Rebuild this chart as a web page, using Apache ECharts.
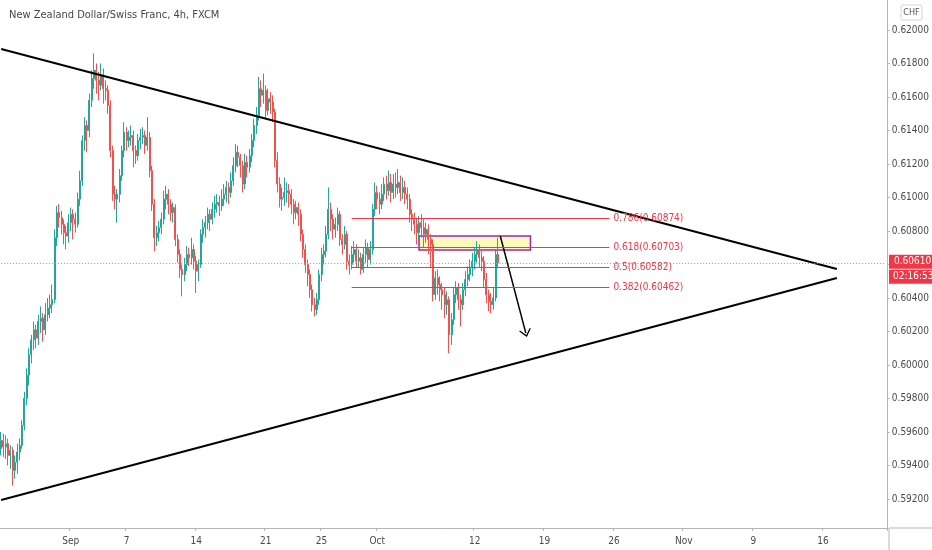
<!DOCTYPE html>
<html>
<head>
<meta charset="utf-8">
<title>NZDCHF 4h</title>
<script src="https://cdn.jsdelivr.net/npm/echarts@6/dist/echarts.min.js"></script>
<style>
html,body{margin:0;padding:0;background:#fff;}
#chart{width:932px;height:550px;}
</style>
</head>
<body>
<div id="chart"></div>
<script>
// trading days shown on the 4h chart (weekends skipped), 6 bars a day
var tradingDays = ['2020-08-25','2020-08-26','2020-08-27','2020-08-28','2020-08-31',
  '2020-09-01','2020-09-02','2020-09-03','2020-09-04','2020-09-07','2020-09-08','2020-09-09','2020-09-10','2020-09-11',
  '2020-09-14','2020-09-15','2020-09-16','2020-09-17','2020-09-18','2020-09-21','2020-09-22','2020-09-23','2020-09-24','2020-09-25',
  '2020-09-28','2020-09-29','2020-09-30','2020-10-01','2020-10-02','2020-10-05','2020-10-06','2020-10-07','2020-10-08','2020-10-09',
  '2020-10-12','2020-10-13','2020-10-14','2020-10-15','2020-10-16','2020-10-19','2020-10-20','2020-10-21','2020-10-22','2020-10-23',
  '2020-10-26','2020-10-27','2020-10-28','2020-10-29','2020-10-30','2020-11-02','2020-11-03','2020-11-04','2020-11-05','2020-11-06',
  '2020-11-09','2020-11-10','2020-11-11','2020-11-12','2020-11-13','2020-11-16','2020-11-17','2020-11-18','2020-11-19','2020-11-20'];
var hours = ['00:00','04:00','08:00','12:00','16:00','20:00'];
var barCount = 382;

var tickDates = ['2020-09-01','2020-09-07','2020-09-14','2020-09-21','2020-09-25','2020-10-01','2020-10-12','2020-10-19','2020-10-26','2020-11-02','2020-11-09','2020-11-16'];
var tickTexts = ['Sep','7','14','21','25','Oct','12','19','26','Nov','9','16'];

// [open, close, low, high]
var candles = [
  [.5950,.5955,.5946,.5960],[.5955,.5951,.5945,.5959],[.5951,.5953,.5944,.5958],[.5953,.5946,.5940,.5956],[.5946,.5949,.5938,.5952],
  [.5949,.5937,.5928,.5951],[.5937,.5942,.5932,.5946],[.5942,.5948,.5935,.5953],[.5948,.5952,.5943,.5956],[.5952,.5964,.5950,.5967],
  [.5964,.5980,.5961,.5984],[.5980,.5994,.5976,.5998],[.5994,.6006,.5988,.6010],[.6006,.6015,.6001,.6018],[.6015,.6021,.6009,.6026],
  [.6021,.6016,.6010,.6024],[.6016,.6026,.6012,.6030],[.6026,.6028,.6019,.6035],[.6028,.6021,.6014,.6031],[.6021,.6030,.6018,.6037],
  [.6030,.6034,.6026,.6040],[.6034,.6036,.6028,.6042],[.6036,.6039,.6031,.6048],[.6039,.6076,.6037,.6081],[.6076,.6091,.6071,.6095],
  [.6091,.6088,.6082,.6096],[.6088,.6084,.6078,.6092],[.6084,.6079,.6072,.6087],[.6079,.6077,.6069,.6083],[.6077,.6085,.6073,.6090],
  [.6085,.6090,.6080,.6094],[.6090,.6087,.6075,.6093],[.6087,.6084,.6079,.6091],[.6084,.6099,.6082,.6103],[.6099,.6110,.6095,.6116],
  [.6110,.6134,.6107,.6137],[.6134,.6143,.6128,.6148],[.6143,.6140,.6127,.6146],[.6140,.6158,.6136,.6162],[.6158,.6171,.6154,.6176],
  [.6171,.6176,.6165,.6186],[.6176,.6170,.6162,.6180],[.6170,.6167,.6158,.6175],[.6167,.6173,.6164,.6180],[.6173,.6165,.6156,.6177],
  [.6165,.6164,.6158,.6170],[.6164,.6155,.6150,.6167],[.6155,.6128,.6124,.6158],[.6128,.6102,.6098,.6131],[.6102,.6099,.6093,.6107],
  [.6099,.6102,.6085,.6105],[.6102,.6113,.6097,.6117],[.6113,.6128,.6110,.6131],[.6128,.6139,.6124,.6145],[.6139,.6134,.6128,.6142],
  [.6134,.6136,.6130,.6140],[.6136,.6137,.6131,.6143],[.6137,.6128,.6118,.6140],[.6128,.6125,.6120,.6131],[.6125,.6134,.6122,.6138],
  [.6134,.6136,.6129,.6141],[.6136,.6137,.6132,.6142],[.6137,.6131,.6126,.6140],[.6131,.6136,.6128,.6148],[.6136,.6116,.6112,.6139],
  [.6116,.6096,.6092,.6119],[.6096,.6076,.6068,.6099],[.6076,.6079,.6071,.6083],[.6079,.6082,.6074,.6086],[.6082,.6087,.6078,.6091],
  [.6087,.6099,.6084,.6104],[.6099,.6102,.6093,.6107],[.6102,.6096,.6090,.6105],[.6096,.6091,.6086,.6099],[.6091,.6094,.6085,.6097],
  [.6094,.6075,.6071,.6096],[.6075,.6066,.6061,.6078],[.6066,.6057,.6052,.6069],[.6057,.6054,.6041,.6060],[.6054,.6060,.6050,.6064],
  [.6060,.6066,.6056,.6071],[.6066,.6064,.6059,.6070],[.6064,.6069,.6060,.6076],[.6069,.6062,.6057,.6072],[.6062,.6056,.6043,.6065],
  [.6056,.6060,.6050,.6063],[.6060,.6078,.6058,.6081],[.6078,.6082,.6073,.6087],[.6082,.6085,.6076,.6089],[.6085,.6090,.6081,.6094],
  [.6090,.6087,.6080,.6093],[.6087,.6093,.6084,.6097],[.6093,.6096,.6088,.6101],[.6096,.6097,.6091,.6102],[.6097,.6095,.6089,.6101],
  [.6095,.6099,.6092,.6105],[.6099,.6102,.6095,.6108],[.6102,.6106,.6097,.6110],[.6106,.6103,.6096,.6109],[.6103,.6110,.6100,.6115],
  [.6110,.6119,.6107,.6124],[.6119,.6127,.6115,.6132],[.6127,.6124,.6118,.6131],[.6124,.6119,.6112,.6126],[.6119,.6108,.6103,.6122],
  [.6108,.6121,.6105,.6126],[.6121,.6118,.6112,.6125],[.6118,.6125,.6115,.6129],[.6125,.6134,.6121,.6138],[.6134,.6143,.6130,.6147],
  [.6143,.6149,.6138,.6154],[.6149,.6165,.6146,.6172],[.6165,.6161,.6154,.6170],[.6161,.6164,.6156,.6174],[.6164,.6152,.6147,.6167],
  [.6152,.6159,.6149,.6165],[.6159,.6157,.6150,.6163],[.6157,.6151,.6145,.6161],[.6151,.6122,.6118,.6153],[.6122,.6108,.6103,.6127],
  [.6108,.6099,.6094,.6112],[.6099,.6100,.6092,.6106],[.6100,.6103,.6095,.6112],[.6103,.6104,.6097,.6109],[.6104,.6102,.6094,.6108],
  [.6102,.6096,.6090,.6105],[.6096,.6091,.6084,.6099],[.6091,.6094,.6087,.6098],[.6094,.6090,.6083,.6097],[.6090,.6078,.6074,.6093],
  [.6078,.6069,.6064,.6081],[.6069,.6060,.6055,.6072],[.6060,.6054,.6047,.6063],[.6054,.6045,.6040,.6057],[.6045,.6036,.6032,.6048],
  [.6036,.6033,.6029,.6040],[.6033,.6039,.6030,.6043],[.6039,.6054,.6036,.6057],[.6054,.6066,.6050,.6070],[.6066,.6068,.6060,.6072],
  [.6068,.6078,.6064,.6083],[.6078,.6093,.6075,.6106],[.6093,.6087,.6080,.6097],[.6087,.6081,.6075,.6090],[.6081,.6084,.6076,.6088],
  [.6084,.6090,.6080,.6094],[.6090,.6075,.6071,.6092],[.6075,.6072,.6066,.6078],[.6072,.6078,.6069,.6083],[.6078,.6062,.6057,.6080],
  [.6062,.6060,.6054,.6066],[.6060,.6066,.6057,.6071],[.6066,.6069,.6061,.6074],[.6069,.6062,.6058,.6072],[.6062,.6064,.6058,.6069],
  [.6064,.6057,.6054,.6067],[.6057,.6066,.6055,.6070],[.6066,.6070,.6061,.6075],[.6070,.6063,.6058,.6073],[.6063,.6069,.6060,.6074],
  [.6069,.6093,.6066,.6096],[.6093,.6103,.6089,.6109],[.6103,.6099,.6093,.6107],[.6099,.6096,.6090,.6103],[.6096,.6102,.6093,.6108],
  [.6102,.6108,.6098,.6112],[.6108,.6104,.6099,.6113],[.6104,.6109,.6101,.6116],[.6109,.6103,.6097,.6114],[.6103,.6108,.6099,.6114],
  [.6108,.6106,.6100,.6115],[.6106,.6109,.6102,.6117],[.6109,.6103,.6098,.6113],[.6103,.6106,.6099,.6112],[.6106,.6102,.6096,.6110],
  [.6102,.6099,.6093,.6106],[.6099,.6090,.6085,.6102],[.6090,.6087,.6080,.6093],[.6087,.6084,.6078,.6091],[.6084,.6079,.6072,.6088],
  [.6079,.6085,.6075,.6089],[.6085,.6082,.6076,.6090],[.6082,.6078,.6070,.6087],[.6078,.6081,.6073,.6085],[.6081,.6075,.6066,.6084],
  [.6075,.6072,.6058,.6078],[.6072,.6042,.6038,.6075],[.6042,.6052,.6039,.6056],[.6052,.6048,.6042,.6057],[.6048,.6045,.6038,.6053],
  [.6045,.6042,.6033,.6049],[.6042,.6036,.6028,.6046],[.6036,.6039,.6030,.6044],[.6039,.6018,.6007,.6041],[.6018,.6027,.6012,.6031],
  [.6027,.6042,.6024,.6046],[.6042,.6046,.6037,.6050],[.6046,.6039,.6033,.6049],[.6039,.6036,.6023,.6042],[.6036,.6045,.6033,.6049],
  [.6045,.6051,.6041,.6056],[.6051,.6054,.6047,.6059],[.6054,.6058,.6050,.6063],[.6058,.6062,.6053,.6067],[.6062,.6066,.6057,.6070],
  [.6066,.6069,.6061,.6074],[.6069,.6064,.6058,.6072],[.6064,.6062,.6056,.6068],[.6062,.6051,.6046,.6065],[.6051,.6042,.6037,.6055],
  [.6042,.6038,.6032,.6045],[.6038,.6036,.6031,.6043],[.6036,.6040,.6033,.6046],[.6040,.6066,.6038,.6069],[.6066,.6061,.6058,.6076]
];

// drawings
var fibLevels = [0.786, 0.618, 0.5, 0.382];
var fibPrices = [0.60874, 0.60703, 0.60582, 0.60462];
var fibBars = [151, 262];
var upperLine = [[0, 0.61887], [360, 0.60573]];
var lowerLine = [[0, 0.59194], [360, 0.60519]];
var zoneBars = [180, 228];
var zonePrices = [0.60770, 0.60687];
var arrowPts = [[215, 0.6077], [226, 0.6019]];
var lastPrice = 0.60610;
var countdown = '02:16:53';
var yRange = [0.590269, 0.621791];

var categories = [];
tradingDays.forEach(function (d) {
  hours.forEach(function (h) { categories.push(d + ' ' + h); });
});
categories = categories.slice(0, barCount);

function isTick(idx) {
  var c = categories[idx];
  return c.slice(11) === '00:00' && tickDates.indexOf(c.slice(0, 10)) >= 0;
}

var font = "'Liberation Sans Narrow','DejaVu Sans Condensed','Liberation Sans',sans-serif";
var red = '#f23645';
var gridRight = 43, gridBottom = 22;

var markLines = [
  [{coord: upperLine[0], lineStyle: {color: '#000', width: 2, type: 'solid'}}, {coord: upperLine[1]}],
  [{coord: lowerLine[0], lineStyle: {color: '#000', width: 2, type: 'solid'}}, {coord: lowerLine[1]}],
  [{coord: [0, lastPrice], lineStyle: {color: '#f5737e', width: 1, type: [1, 2]}}, {coord: [barCount - 1, lastPrice]}],
  [{coord: arrowPts[0], symbol: 'none', lineStyle: {color: '#000', width: 1.5, type: 'solid'}},
   {coord: arrowPts[1], symbol: 'path://M0,0 L6,9 L5,10 L0,2.6 L-5,10 L-6,9 Z', symbolSize: [12, 8]}]
];
fibLevels.forEach(function (lv, i) {
  markLines.push([
    {coord: [fibBars[0], fibPrices[i]], lineStyle: {color: red, width: 1, type: 'solid'},
     label: {show: true, position: 'end', distance: 4, color: red, fontSize: 10, fontFamily: font,
             formatter: lv + '(' + fibPrices[i].toFixed(5) + ')'}},
    {coord: [fibBars[1], fibPrices[i]]}
  ]);
});

var chart = echarts.init(document.getElementById('chart'));
chart.setOption({
  animation: false,
  backgroundColor: '#fff',
  textStyle: {fontFamily: font},
  title: {
    text: 'New Zealand Dollar/Swiss Franc, 4h, FXCM',
    left: 4, top: 5,
    textStyle: {fontSize: 11, fontWeight: 'normal', color: '#434651', fontFamily: font}
  },
  grid: {left: 0, top: 0, right: gridRight, bottom: gridBottom},
  xAxis: {
    type: 'category',
    data: categories,
    boundaryGap: true,
    axisLine: {lineStyle: {color: '#b2b5be'}},
    axisTick: {show: true, length: 3, interval: function (i) { return isTick(i); }, lineStyle: {color: '#b2b5be'}},
    axisLabel: {
      interval: function (i) { return isTick(i); },
      formatter: function (v) { return tickTexts[tickDates.indexOf(v.slice(0, 10))]; },
      color: '#4a4a4a', fontSize: 10, margin: 8, fontFamily: font
    },
    splitLine: {show: false}
  },
  yAxis: {
    type: 'value',
    position: 'right',
    min: yRange[0], max: yRange[1],
    splitNumber: 16,
    splitLine: {show: false},
    axisLine: {show: true, lineStyle: {color: '#b2b5be'}},
    axisTick: {show: true, length: 3, lineStyle: {color: '#b2b5be'}},
    axisLabel: {
      formatter: function (v) { return v.toFixed(5); },
      showMinLabel: false, showMaxLabel: false,
      color: '#4a4a4a', fontSize: 10, margin: 5, fontFamily: font
    }
  },
  series: [{
    type: 'candlestick',
    data: candles,
    barWidth: '65%',
    itemStyle: {color: '#26a69a', color0: '#ef5350', borderColor: '#26a69a', borderColor0: '#ef5350', borderWidth: 1},
    markArea: {
      silent: true,
      itemStyle: {color: 'rgba(255,235,59,0.32)', borderColor: '#9c27b0', borderWidth: 1.5},
      data: [[{coord: [zoneBars[0], zonePrices[0]]}, {coord: [zoneBars[1], zonePrices[1]]}]]
    },
    markLine: {
      silent: true,
      animation: false,
      precision: 5,
      symbol: ['none', 'none'],
      label: {show: false},
      emphasis: {disabled: true},
      data: markLines
    }
  }]
});

// price / countdown tags on the price scale, placed from the axis scale
var py = chart.convertToPixel({yAxisIndex: 0}, lastPrice);
var W = chart.getWidth(), H = chart.getHeight();
var axisX = W - gridRight, axisY = H - gridBottom;
chart.setOption({
  graphic: [
    {type: 'line', z: 50, shape: {x1: axisX, y1: axisY, x2: W, y2: axisY}, style: {stroke: '#b2b5be', lineWidth: 1}},
    {type: 'line', z: 50, shape: {x1: axisX, y1: axisY, x2: axisX, y2: H}, style: {stroke: '#b2b5be', lineWidth: 1}},
    {type: 'rect', z: 50, shape: {x: 901, y: 5, width: 21, height: 15, r: 2}, style: {fill: '#fff', stroke: '#d1d4dc', lineWidth: 1}},
    {type: 'text', z: 51, x: 911.5, y: 12.5, style: {text: 'CHF', fill: '#555', font: '9px ' + font, align: 'center', verticalAlign: 'middle'}},
    {type: 'rect', z: 60, shape: {x: axisX, y: py - 8, width: W - axisX, height: 14}, style: {fill: red}},
    {type: 'text', z: 61, x: axisX + 5, y: py - 1, style: {text: lastPrice.toFixed(5), fill: '#fff', font: '10px ' + font, verticalAlign: 'middle'}},
    {type: 'rect', z: 60, shape: {x: axisX, y: py + 7, width: W - axisX, height: 14}, style: {fill: red}},
    {type: 'text', z: 61, x: axisX + 4, y: py + 14, style: {text: countdown, fill: '#fff', font: '10px ' + font, verticalAlign: 'middle'}}
  ]
});
</script>
</body>
</html>
